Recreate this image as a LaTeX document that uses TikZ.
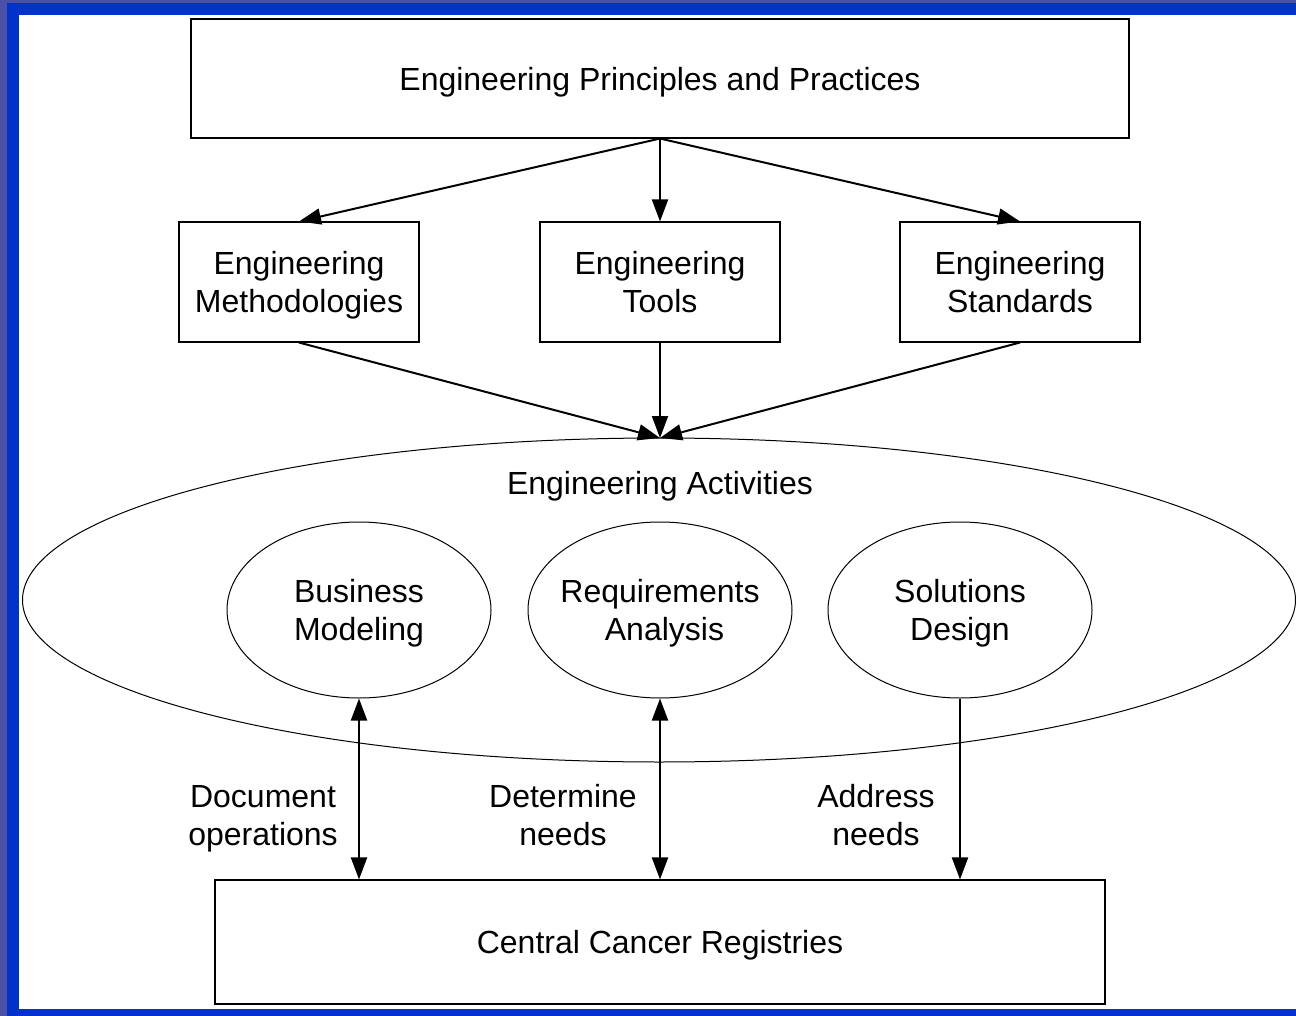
\documentclass[tikz,border=0pt]{standalone}
\usepackage{fontspec}
\setmainfont{Liberation Sans}
\usetikzlibrary{shapes.geometric,arrows.meta}
\definecolor{outerpurple}{RGB}{76,80,163}
\definecolor{frameblue}{RGB}{0,51,204}
\begin{document}
\begin{tikzpicture}[x=0.75pt,y=-0.75pt,
  every node/.style={font=\fontsize{24}{28.5}\selectfont, text=black},
  box/.style={draw=black, line width=0.8pt, rectangle, inner sep=0pt, align=center, text depth=0pt},
  ell/.style={draw=black, line width=0.75pt, ellipse, inner sep=0pt},
  arr/.style={line width=1.5pt, -{Triangle[length=16.5pt,width=12pt]}},
  darr/.style={line width=1.5pt, {Triangle[length=16.5pt,width=12pt]}-{Triangle[length=16.5pt,width=12pt]}},
  lbl/.style={align=center, inner sep=0pt, text depth=0pt}]
\useasboundingbox (0,0) rectangle (1296,1016);
\fill[outerpurple] (0,0) rectangle (1296,1016);
\fill[frameblue] (7,3) rectangle (1296,1016);
\fill[white] (19,15) rectangle (1296,1009);

\node[box, minimum width=703.5pt, minimum height=89.25pt] (top) at (660,78.5) {Engineering Principles and Practices};

\node[box, minimum width=180pt, minimum height=90pt] (meth) at (299,282) {Engineering\\Methodologies};
\node[box, minimum width=180pt, minimum height=90pt] (tools) at (660,282) {Engineering\\Tools};
\node[box, minimum width=180pt, minimum height=90pt] (std) at (1020,282) {Engineering\\Standards};

\node[ell, minimum width=954.75pt, minimum height=243pt] (act) at (659,600) {};
\node[lbl] (acttxt) at (660,483) {Engineering Activities};

\node[ell, minimum width=198pt, minimum height=132pt] (bm) at (359,610) {};
\node[lbl] (bmtxt) at (bm) {Business\\Modeling};
\node[ell, minimum width=198pt, minimum height=132pt] (ra) at (660,610) {};
\node[lbl] (ratxt) at (ra) {Requirements\\\ Analysis};
\node[ell, minimum width=198pt, minimum height=132pt] (sd) at (960,610) {};
\node[lbl] (sdtxt) at (sd) {Solutions\\Design};

\node[box, minimum width=667.5pt, minimum height=93pt] (ccr) at (660,942) {Central Cancer Registries};

\coordinate (actin) at (660,438);

\draw[arr] (top.south) -- (meth.north);
\draw[arr] (top.south) -- (tools.north);
\draw[arr] (top.south) -- (std.north);

\draw[arr] (meth.south) -- (actin);
\draw[arr] (tools.south) -- (actin);
\draw[arr] (std.south) -- (actin);

\draw[darr] (bm.south) -- (bm.south |- ccr.north);
\draw[darr] (ra.south) -- (ra.south |- ccr.north);
\draw[arr] (sd.south) -- (sd.south |- ccr.north);

\node[lbl] (l1) at (263,815) {Document\\operations};
\node[lbl] (l2) at (563,815) {Determine\\needs};
\node[lbl] (l3) at (876,815) {Address\\needs};
\end{tikzpicture}
\end{document}
